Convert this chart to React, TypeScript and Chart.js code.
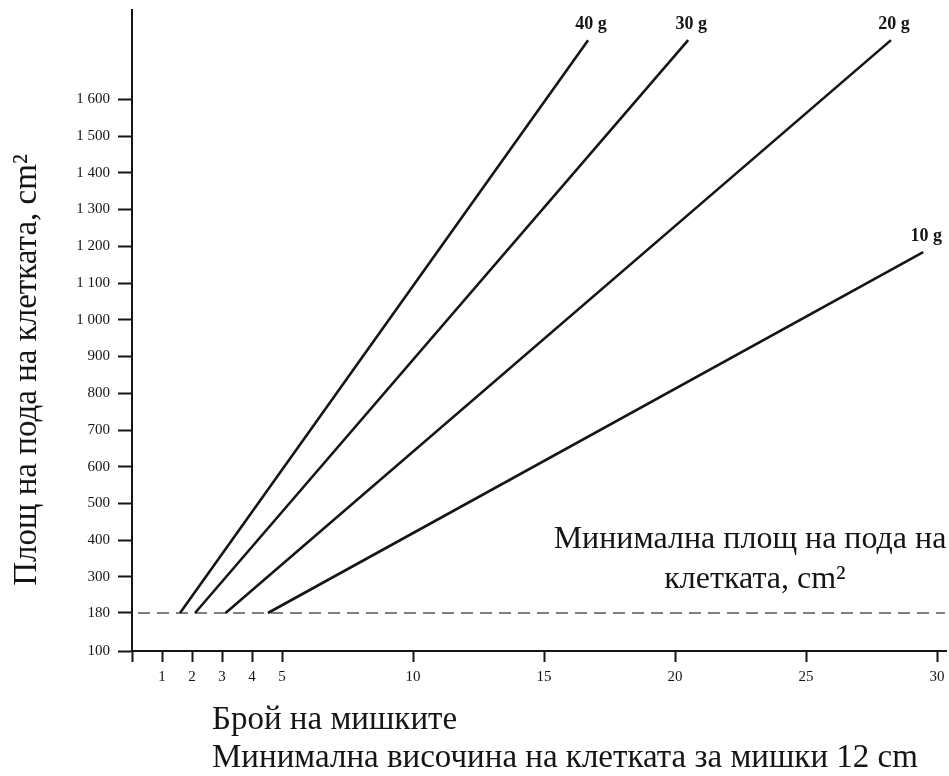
import React, { useEffect, useRef } from 'react';
import { Chart, registerables, LinearScale } from 'chart.js';

Chart.register(...registerables);

// ---------- data ----------
const X_TICKS = [0, 1, 2, 3, 4, 5, 10, 15, 20, 25, 30];
const X_TICK_LABELS = ['', '1', '2', '3', '4', '5', '10', '15', '20', '25', '30'];
const Y_TICKS = [100, 180, 300, 400, 500, 600, 700, 800, 900, 1000, 1100, 1200, 1300, 1400, 1500, 1600];
const Y_TICK_LABELS = ['100', '180', '300', '400', '500', '600', '700', '800', '900', '1 000', '1 100', '1 200', '1 300', '1 400', '1 500', '1 600'];

const SERIES_LABELS = ['40 g', '30 g', '20 g', '10 g'];
const MICE_40G = [1.6, 16.68];
const AREA_40G = [180, 1761];
const MICE_30G = [2.1, 20.5];
const AREA_30G = [180, 1761];
const MICE_20G = [3.12, 28.24];
const AREA_20G = [180, 1761];
const MICE_10G = [4.53, 29.47];
const AREA_10G = [180, 1184];

const MIN_AREA = 180;
const MIN_AREA_MICE = [0.2, 30.3];

const Y_TITLE = 'Площ на пода на клетката, cm²';
const X_TITLE_1 = 'Брой на мишките';
const X_TITLE_2 = 'Минимална височина на клетката за мишки 12 cm';
const NOTE_1 = 'Минимална площ на пода на';
const NOTE_2 = 'клетката, cm²';

// ---------- scale geometry (non-uniform axes of the original figure) ----------
const X_SCALE_BREAKS: number[][] = [[0, 0], [5, 150], [30, 805]];
const Y_SCALE_BREAKS: number[][] = [[100, 0], [180, 38], [300, 74], [1600, 551.7]];

function seg(v: number, br: number[][], k: number) {
  const n = br.length;
  if (v <= br[0][k]) return 0;
  if (v >= br[n - 1][k]) return n - 2;
  let i = 0;
  while (i < n - 2 && v > br[i + 1][k]) i++;
  return i;
}
function toUnits(v: number, br: number[][]) {
  const i = seg(v, br, 0);
  const [v0, u0] = br[i];
  const [v1, u1] = br[i + 1];
  return u0 + ((v - v0) * (u1 - u0)) / (v1 - v0);
}
function fromUnits(u: number, br: number[][]) {
  const i = seg(u, br, 1);
  const [v0, u0] = br[i];
  const [v1, u1] = br[i + 1];
  return v0 + ((u - u0) * (v1 - v0)) / (u1 - u0);
}

class PiecewiseScale extends LinearScale {
  static id = 'piecewise';
  brk(): number[][] {
    return (this as any).axis === 'x' ? X_SCALE_BREAKS : Y_SCALE_BREAKS;
  }
  getPixelForValue(value: any) {
    if (value === null || value === undefined || isNaN(value)) return NaN;
    const br = this.brk();
    const a = toUnits((this as any).min, br);
    const b = toUnits((this as any).max, br);
    return this.getPixelForDecimal((toUnits(value, br) - a) / (b - a));
  }
  getValueForPixel(pixel: number) {
    const br = this.brk();
    const a = toUnits((this as any).min, br);
    const b = toUnits((this as any).max, br);
    return fromUnits(a + this.getDecimalForPixel(pixel) * (b - a), br);
  }
}
Chart.register(PiecewiseScale as any);

const FONT = "'Liberation Serif', 'Times New Roman', serif";
const INK = '#151515';

const textPlugin = {
  id: 'figureTexts',
  afterDatasetsDraw(chart: any) {
    const ctx = chart.ctx;
    const ys = chart.scales.y;
    ctx.save();
    ctx.fillStyle = INK;

    // series end labels
    ctx.font = `bold 18px ${FONT}`;
    ctx.textAlign = 'center';
    ctx.textBaseline = 'alphabetic';
    chart.data.datasets.forEach((ds: any, i: number) => {
      if (!SERIES_LABELS.includes(ds.label)) return;
      const meta = chart.getDatasetMeta(i);
      const pt = meta.data[meta.data.length - 1];
      ctx.fillText(ds.label, pt.x + 3, pt.y - 11);
    });

    // note above the minimum line
    const yMin = ys.getPixelForValue(MIN_AREA);
    ctx.font = `32px ${FONT}`;
    ctx.textAlign = 'center';
    ctx.fillText(NOTE_1, 750, yMin - 65);
    ctx.fillText(NOTE_2, 755, yMin - 25);

    // x-axis titles
    ctx.font = `33px ${FONT}`;
    ctx.textAlign = 'left';
    ctx.fillText(X_TITLE_1, 212, 729);
    ctx.fillText(X_TITLE_2, 212, 767);

    // y-axis title
    ctx.save();
    ctx.translate(36, 370);
    ctx.rotate(-Math.PI / 2);
    ctx.textAlign = 'center';
    ctx.fillText(Y_TITLE, 0, 0);
    ctx.restore();

    ctx.restore();
  },
};

export default function App() {
  const ref = useRef<HTMLCanvasElement>(null);

  useEffect(() => {
    if (!ref.current) return;
    Chart.defaults.font.family = FONT;
    Chart.defaults.color = INK;

    const pts = (xs: number[], ys: number[]) => xs.map((x, i) => ({ x, y: ys[i] }));
    const solid = (label: string, data: any[]) => ({
      label,
      data,
      borderColor: INK,
      borderWidth: 2.6,
      pointRadius: 0,
      fill: false,
      tension: 0,
    });

    const chart = new Chart(ref.current, {
      type: 'line',
      data: {
        datasets: [
          solid(SERIES_LABELS[0], pts(MICE_40G, AREA_40G)),
          solid(SERIES_LABELS[1], pts(MICE_30G, AREA_30G)),
          solid(SERIES_LABELS[2], pts(MICE_20G, AREA_20G)),
          solid(SERIES_LABELS[3], pts(MICE_10G, AREA_10G)),
          {
            label: 'min',
            data: MIN_AREA_MICE.map((x) => ({ x, y: MIN_AREA })),
            borderColor: '#555',
            borderWidth: 1.5,
            borderDash: [12, 7],
            pointRadius: 0,
            fill: false,
          },
        ],
      },
      options: {
        responsive: false,
        animation: false,
        layout: { padding: { top: 10, right: 3, left: 0, bottom: 0 } },
        plugins: { legend: { display: false }, tooltip: { enabled: false }, title: { display: false } },
        scales: {
          x: {
            type: 'piecewise' as any,
            min: 0,
            max: 30.34,
            afterBuildTicks: (s: any) => {
              s.ticks = X_TICKS.map((value) => ({ value }));
            },
            afterFit: (s: any) => {
              s.height = 125;
              s.paddingLeft = 0;
              s.paddingRight = 0;
            },
            ticks: {
              autoSkip: false,
              maxRotation: 0,
              minRotation: 0,
              padding: 6,
              font: { size: 15 },
              color: INK,
              callback: (_v: any, i: number) => X_TICK_LABELS[i],
            },
            grid: { drawOnChartArea: false, drawTicks: true, tickLength: 11, tickColor: INK, tickWidth: 2 },
            border: { display: true, color: INK, width: 2 },
          },
          y: {
            type: 'piecewise' as any,
            min: 100,
            max: 1843,
            afterBuildTicks: (s: any) => {
              s.ticks = Y_TICKS.map((value) => ({ value }));
            },
            afterFit: (s: any) => {
              s.width = 132;
              s.paddingTop = 0;
              s.paddingBottom = 0;
            },
            ticks: {
              autoSkip: false,
              padding: 8,
              font: { size: 15 },
              color: INK,
              callback: (_v: any, i: number) => Y_TICK_LABELS[i],
            },
            grid: { drawOnChartArea: false, drawTicks: true, tickLength: 14, tickColor: INK, tickWidth: 2 },
            border: { display: true, color: INK, width: 2 },
          },
        },
      },
      plugins: [textPlugin],
    } as any);

    return () => chart.destroy();
  }, []);

  return (
    <div style={{ position: 'fixed', left: 0, top: 0, width: 949, height: 776, background: '#fff' }}>
      <canvas ref={ref} width={949} height={776} style={{ display: 'block' }} />
    </div>
  );
}
